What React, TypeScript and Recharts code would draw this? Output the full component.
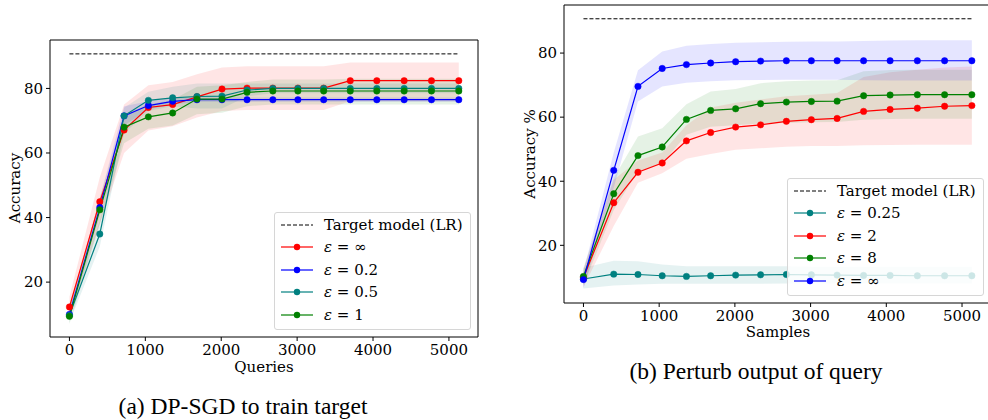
import React from "react";
import {
  ComposedChart,
  Line,
  Area,
  XAxis,
  YAxis,
  ReferenceLine,
  ReferenceArea,
  Legend,
  Label,
} from "recharts";

// x positions (number of queries / samples)
const steps = [0, 400, 720, 1040, 1360, 1680, 2010, 2340, 2680, 3010, 3350, 3700, 4050, 4410, 4770, 5130];
const xTicks = [0, 1000, 2000, 3000, 4000, 5000];
const yTicks = [20, 40, 60, 80];
const targetAcc = 90.7;

// (a) DP-SGD to train target
const dpInf = [12.3, 44.9, 67.1, 74.1, 75.0, 77.4, 79.8, 80.1, 80.1, 80.1, 80.1, 82.4, 82.4, 82.4, 82.4, 82.4];
const dpInfLo = [9, 38, 60, 67, 68.3, 71, 73, 73.3, 73.3, 73.3, 73.3, 76, 76, 76, 76, 76];
const dpInfHi = [15.5, 52.5, 75, 81, 82, 84.4, 86.5, 86.9, 86.9, 86.9, 86.9, 88, 88, 88, 88, 88];
const dp02 = [10.0, 43.1, 71.5, 74.7, 76.0, 76.5, 76.5, 76.5, 76.5, 76.5, 76.5, 76.5, 76.5, 76.5, 76.5, 76.5];
const dp02Lo = [8.5, 40.5, 68.5, 73.5, 75, 75.8, 75.8, 75.8, 75.8, 75.8, 75.8, 75.8, 75.8, 75.8, 75.8, 75.8];
const dp02Hi = [11.5, 46, 74.5, 76, 77, 77.2, 77.2, 77.2, 77.2, 77.2, 77.2, 77.2, 77.2, 77.2, 77.2, 77.2];
const dp05 = [9.7, 34.9, 71.5, 76.3, 77.1, 77.5, 77.6, 79.5, 80.0, 80.0, 80.0, 80.0, 80.0, 80.0, 80.0, 80.0];
const dp05Lo = [7.5, 31, 66, 73, 74.5, 73.8, 73.8, 77.5, 78.5, 78.5, 78.5, 78.5, 78.5, 78.5, 78.5, 78.5];
const dp05Hi = [12, 39, 74, 79, 80.5, 81.5, 81.5, 81.5, 81.5, 81.5, 81.5, 81.5, 81.5, 81.5, 81.5, 81.5];
const dp1 = [9.4, 42.4, 68.0, 71.2, 72.4, 76.7, 76.7, 78.8, 79.2, 79.2, 79.2, 79.2, 79.2, 79.2, 79.2, 79.2];
const dp1Lo = [7, 38, 63, 67.5, 68.5, 72, 72.5, 74.5, 75, 75, 75, 75, 75, 75, 75, 75];
const dp1Hi = [12, 46, 72, 75, 76.5, 80.5, 81, 82, 82.8, 82.8, 82.8, 83, 83, 83, 83, 83];

// (b) Perturb output of query
const po025 = [9.5, 11.0, 10.9, 10.5, 10.3, 10.5, 10.7, 10.8, 10.9, 10.8, 10.7, 10.6, 10.6, 10.5, 10.5, 10.5];
const po025Lo = [6.5, 7.5, 7.8, 8, 8, 8, 8, 8, 8.1, 8.1, 8.1, 8.1, 8.1, 8.1, 8.1, 8.1];
const po025Hi = [13, 15.2, 15, 14, 13.5, 13.5, 13.5, 13.5, 13.5, 13.3, 13.3, 13.3, 13.3, 13.3, 13.3, 13.3];
const po2 = [9.9, 33.3, 42.8, 45.7, 52.6, 55.2, 56.9, 57.6, 58.7, 59.2, 59.6, 61.8, 62.4, 62.8, 63.4, 63.6];
const po2Lo = [7, 26, 39.5, 42.5, 47, 48.5, 49.8, 50.3, 50.8, 51, 51, 51.2, 51.3, 51.4, 51.4, 51.4];
const po2Hi = [12.5, 40.5, 46.5, 49, 57.5, 63, 64.5, 65.5, 66.5, 67, 67.5, 72.5, 74, 74.8, 75.5, 75.8];
const po8 = [10.3, 36.1, 48.0, 50.7, 59.3, 62.1, 62.6, 64.2, 64.7, 64.9, 65.0, 66.7, 66.9, 67.0, 67.0, 67.0];
const po8Lo = [7.5, 31, 43, 45.5, 54.5, 57, 57.5, 58, 58.2, 58.4, 58.5, 59.2, 59.4, 59.5, 59.5, 59.5];
const po8Hi = [13, 41, 54, 56.5, 64, 68, 68.8, 70.6, 71.2, 71.4, 71.5, 74.3, 74.7, 74.8, 74.8, 74.8];
const poInf = [9.3, 43.4, 69.6, 75.2, 76.4, 76.9, 77.3, 77.5, 77.6, 77.6, 77.6, 77.6, 77.6, 77.6, 77.6, 77.6];
const poInfLo = [6.5, 38, 64.9, 69.6, 70.7, 71.2, 71.5, 71.6, 71.7, 71.7, 71.7, 71.5, 71.4, 71.4, 71.4, 71.4];
const poInfHi = [12, 49, 74.6, 80.5, 82.3, 82.8, 83.2, 83.4, 83.5, 83.6, 83.6, 83.8, 83.9, 84, 84, 84];

const RED = "#ff0000";
const BLUE = "#0000ff";
const TEAL = "#008080";
const GREEN = "#008000";
const FONT = "'DejaVu Serif', serif";
const FS = 15;

type Series = { key: string; eps: string; color: string; values: number[]; lo: number[]; hi: number[] };

const seriesA: Series[] = [
  { key: "inf", eps: "∞", color: RED, values: dpInf, lo: dpInfLo, hi: dpInfHi },
  { key: "e02", eps: "0.2", color: BLUE, values: dp02, lo: dp02Lo, hi: dp02Hi },
  { key: "e05", eps: "0.5", color: TEAL, values: dp05, lo: dp05Lo, hi: dp05Hi },
  { key: "e1", eps: "1", color: GREEN, values: dp1, lo: dp1Lo, hi: dp1Hi },
];

const seriesB: Series[] = [
  { key: "e025", eps: "0.25", color: TEAL, values: po025, lo: po025Lo, hi: po025Hi },
  { key: "e2", eps: "2", color: RED, values: po2, lo: po2Lo, hi: po2Hi },
  { key: "e8", eps: "8", color: GREEN, values: po8, lo: po8Lo, hi: po8Hi },
  { key: "inf", eps: "∞", color: BLUE, values: poInf, lo: poInfLo, hi: poInfHi },
];

function buildRows(xs: number[], series: Series[]) {
  return xs.map((x, i) => {
    const row: Record<string, any> = { x };
    series.forEach((s) => {
      row[s.key] = s.values[i];
      row[s.key + "Band"] = [s.lo[i], s.hi[i]];
    });
    return row;
  });
}

function rowStyle(i: number): React.CSSProperties {
  return {
    position: "absolute",
    left: 0,
    top: 1 + i * 22.4,
    height: 22,
    display: "flex",
    alignItems: "center",
    whiteSpace: "nowrap",
  };
}

function LegendBox({ series }: { series: Series[] }) {
  return (
    <div
      style={{
        position: "relative",
        width: 195,
        height: 116,
        background: "rgba(255,255,255,0.8)",
        border: "1px solid #d6d6d6",
        borderRadius: 3,
        fontFamily: FONT,
        fontSize: FS,
        color: "#000",
      }}
    >
      <div style={rowStyle(0)}>
        <svg width={32} height={10} style={{ marginLeft: 6 }}>
          <line x1={0} x2={32} y1={5} y2={5} stroke="#000" strokeDasharray="4 2" />
        </svg>
        <span style={{ marginLeft: 11 }}>Target model (LR)</span>
      </div>
      {series.map((s, i) => (
        <div key={s.key} style={rowStyle(i + 1)}>
          <svg width={32} height={10} style={{ marginLeft: 6 }}>
            <line x1={0} x2={32} y1={5} y2={5} stroke={s.color} strokeWidth={1.2} />
            <circle cx={16} cy={5} r={3.2} fill={s.color} />
          </svg>
          <span style={{ marginLeft: 11 }}>
            <i>ε</i> = {s.eps}
          </span>
        </div>
      ))}
    </div>
  );
}

type PanelProps = {
  series: Series[];
  width: number;
  height: number;
  margin: { top: number; right: number; bottom: number; left: number };
  yWidth: number;
  xDomain: [number, number];
  yDomain: [number, number];
  xLabel: string;
  yLabel: string;
  yLabelPos: [number, number];
  xLabelPos: [number, number];
  legendPos: { left: number; top: number };
};

function Panel(p: PanelProps) {
  const rows = buildRows(steps, p.series);
  const tick = { fill: "#000", fontSize: FS, fontFamily: FONT };
  return (
    <ComposedChart width={p.width} height={p.height} data={rows} margin={p.margin}>
      <XAxis
        dataKey="x"
        type="number"
        domain={p.xDomain}
        ticks={xTicks}
        allowDataOverflow
        tick={tick}
        tickSize={4}
        tickMargin={3}
        height={40}
        axisLine={false}
        tickLine={{ stroke: "#000" }}
      >
        <Label
          content={() => (
            <text x={p.xLabelPos[0]} y={p.xLabelPos[1]} textAnchor="middle" fontFamily={FONT} fontSize={FS} fill="#000">
              {p.xLabel}
            </text>
          )}
        />
      </XAxis>
      <YAxis
        type="number"
        domain={p.yDomain}
        ticks={yTicks}
        allowDataOverflow
        width={p.yWidth}
        tick={tick}
        tickSize={4}
        tickMargin={3}
        axisLine={false}
        tickLine={{ stroke: "#000" }}
      >
        <Label
          content={() => (
            <text
              transform={`translate(${p.yLabelPos[0]},${p.yLabelPos[1]}) rotate(-90)`}
              textAnchor="middle"
              dominantBaseline="central"
              fontFamily={FONT}
              fontSize={FS}
              fill="#000"
            >
              {p.yLabel}
            </text>
          )}
        />
      </YAxis>
      <ReferenceArea
        x1={p.xDomain[0]}
        x2={p.xDomain[1]}
        y1={p.yDomain[0]}
        y2={p.yDomain[1]}
        fill="#fff"
        fillOpacity={0}
        stroke="#000"
        strokeWidth={1}
        strokeOpacity={1}
        ifOverflow="visible"
      />
      <ReferenceLine
        segment={[
          { x: steps[0], y: targetAcc },
          { x: steps[steps.length - 1], y: targetAcc },
        ]}
        stroke="#000"
        strokeDasharray="4 2"
        strokeWidth={1}
      />
      {p.series.map((s) => (
        <Area
          key={s.key + "Band"}
          type="linear"
          dataKey={s.key + "Band"}
          stroke="none"
          fill={s.color}
          fillOpacity={0.1}
          dot={false}
          activeDot={false}
          isAnimationActive={false}
        />
      ))}
      {p.series.map((s) => (
        <Line
          key={s.key}
          type="linear"
          dataKey={s.key}
          stroke={s.color}
          strokeWidth={1.2}
          dot={{ r: 3.2, fill: s.color, stroke: s.color, strokeWidth: 0.5 }}
          activeDot={false}
          isAnimationActive={false}
        />
      ))}
      <Legend
        layout="vertical"
        align="center"
        verticalAlign="middle"
        wrapperStyle={{ left: p.legendPos.left, top: p.legendPos.top, width: 197, height: 118 }}
        content={() => <LegendBox series={p.series} />}
      />
    </ComposedChart>
  );
}

const captionStyle: React.CSSProperties = {
  position: "absolute",
  width: 320,
  textAlign: "center",
  fontFamily: "'Liberation Serif', 'Times New Roman', serif",
  fontSize: 23.5,
  lineHeight: 1,
  color: "#000",
  whiteSpace: "nowrap",
};

export default function App() {
  return (
    <div
      style={{
        position: "absolute",
        left: 0,
        top: 0,
        width: 988,
        height: 420,
        overflow: "hidden",
        background: "#fff",
      }}
    >
      <div style={{ position: "absolute", left: 0, top: 0 }}>
        <Panel
          series={seriesA}
          width={500}
          height={400}
          margin={{ top: 40, right: 22, bottom: 23, left: 0 }}
          yWidth={50}
          xDomain={[-256, 5383]}
          yDomain={[3, 95]}
          xLabel="Queries"
          yLabel="Accuracy"
          xLabelPos={[264, 372]}
          yLabelPos={[15, 188]}
          legendPos={{ left: 274, top: 212 }}
        />
      </div>
      <div style={{ position: "absolute", left: 500, top: 0 }}>
        <Panel
          series={seriesB}
          width={500}
          height={400}
          margin={{ top: 5, right: 8, bottom: 57, left: 0 }}
          yWidth={64}
          xDomain={[-257, 5396]}
          yDomain={[2, 95]}
          xLabel="Samples"
          yLabel="Accuracy %"
          xLabelPos={[278, 337]}
          yLabelPos={[30, 154]}
          legendPos={{ left: 287, top: 178 }}
        />
      </div>
      <div style={{ ...captionStyle, left: 83, top: 395 }}>(a) DP-SGD to train target</div>
      <div style={{ ...captionStyle, left: 596, top: 360 }}>(b) Perturb output of query</div>
    </div>
  );
}
